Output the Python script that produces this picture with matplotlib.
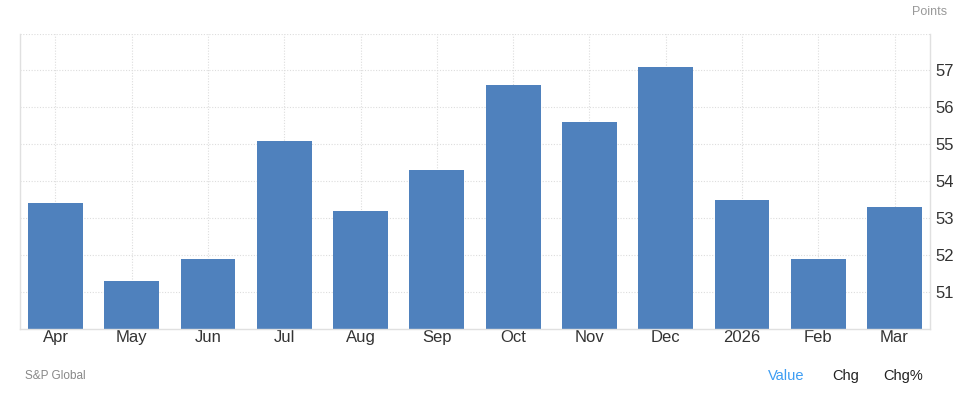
import numpy as np
import matplotlib
matplotlib.use("Agg")
import matplotlib.pyplot as plt

plt.rcParams['font.family'] = ['Liberation Sans', 'DejaVu Sans']

# data
months = ['Apr', 'May', 'Jun', 'Jul', 'Aug', 'Sep', 'Oct', 'Nov', 'Dec', '2026', 'Feb', 'Mar']
values = [53.4, 51.3, 51.9, 55.1, 53.2, 54.3, 56.6, 55.6, 57.1, 53.5, 51.9, 53.3]
yticks = [51, 52, 53, 54, 55, 56, 57]

bar_color = '#4f81bd'
grid_color = '#dddddd'

fig = plt.figure(figsize=(9.61, 3.94), dpi=100)
ax = fig.add_axes([20 / 961, 1 - 329 / 394, 910 / 961, 295.5 / 394])

x = np.arange(len(months))
ax.bar(x, values, width=0.72, color=bar_color, zorder=2)

ax.set_xlim(-0.465, len(months) - 0.535)
ax.set_ylim(50, 58)

ax.set_xticks(x)
ax.set_xticklabels(months, fontsize=12, color='#333333')
ax.set_yticks(yticks + [58])
ax.set_yticklabels([str(t) for t in yticks] + [''], fontsize=12, color='#333333')
ax.yaxis.tick_right()
ax.tick_params(axis='both', length=0)
ax.tick_params(axis='y', pad=4)
ax.tick_params(axis='x', pad=1)

# dotted grid, vertical lines sit on the bar centres
ax.grid(True, color=grid_color, linestyle=(0, (1, 1.5)), linewidth=0.8, zorder=0)

ax.spines['top'].set_visible(False)
for side in ['left', 'bottom', 'right']:
    ax.spines[side].set_color('#e0e0e0')
    ax.spines[side].set_linewidth(1)

# header / footer texts
fig.text(947 / 961, 1 - 12 / 394, 'Points', ha='right', va='center', fontsize=9, color='#999999')
fig.text(25 / 961, 1 - 376 / 394, 'S&P Global', ha='left', va='center', fontsize=8.5, color='#888888')
fig.text(768 / 961, 1 - 376 / 394, 'Value', ha='left', va='center', fontsize=10.5, color='#3d9df3')
fig.text(832 / 961, 1 - 376 / 394, 'Chg', ha='left', va='center', fontsize=10.5, color='#222222')
fig.text(883 / 961, 1 - 376 / 394, 'Chg%', ha='left', va='center', fontsize=10.5, color='#222222')

fig.savefig('out.png', dpi=100)
